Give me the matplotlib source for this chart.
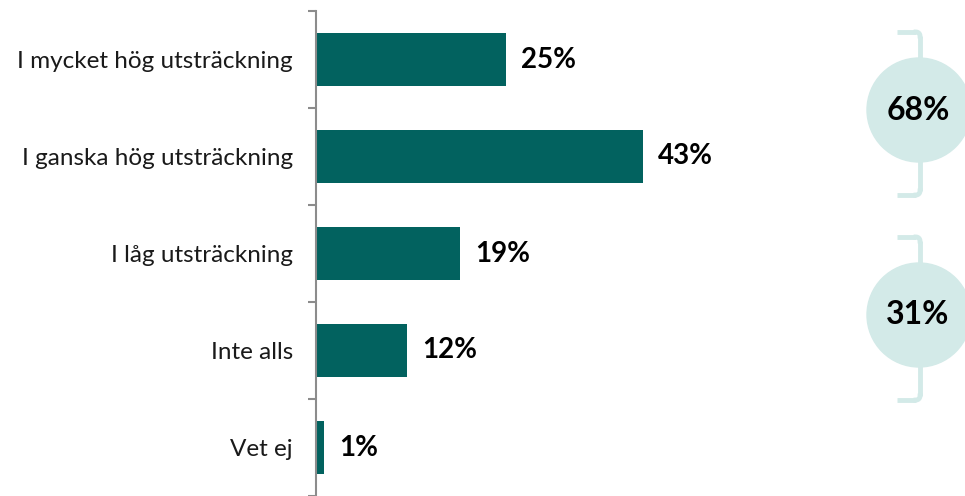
import matplotlib
matplotlib.use("Agg")
import matplotlib.pyplot as plt
from matplotlib.patches import Circle
import numpy as np

categories = ["I mycket hög utsträckning", "I ganska hög utsträckning",
              "I låg utsträckning", "Inte alls", "Vet ej"]
values = [25, 43, 19, 12, 1]
group_totals = [68, 31]

BAR = "#02625F"
LIGHT = "#D3EAE8"
AXIS = "#8C8C8C"
FONT = ["Lato", "DejaVu Sans"]

W, H = 965, 496
fig = plt.figure(figsize=(W / 100, H / 100), dpi=100)

ax = fig.add_axes([316 / W, 0, 1 - 316 / W, (H - 11) / H])
y = np.arange(len(categories))
ax.barh(y, values, height=0.55, color=BAR)
ax.set_ylim(len(categories) - 0.5, -0.5)
ax.set_xlim(0, (W - 316) / 7.6)

for s in ["top", "right", "bottom"]:
    ax.spines[s].set_visible(False)
ax.spines["left"].set_color(AXIS)
ax.spines["left"].set_linewidth(1.5)
ax.set_xticks([])
ax.set_yticks(np.arange(-0.5, len(categories)), labels=[""] * (len(categories) + 1))
ax.tick_params(axis="y", which="major", length=6, width=1.5, color=AXIS, direction="out")
ax.set_yticks(y, minor=True)
ax.set_yticklabels(categories, minor=True, fontsize=17.5, family=FONT, color="#1a1a1a")
ax.tick_params(axis="y", which="minor", length=0, pad=16.5)

for yi, v in zip(y, values):
    ax.annotate(f"{v}%", (v, yi), xytext=(11, 0), textcoords="offset points",
                va="center", ha="left", fontsize=20, fontweight="bold",
                family=FONT, color="black")

# overlay for the group circles
ov = fig.add_axes([0, 0, 1, 1])
ov.set_xlim(0, W)
ov.set_ylim(H, 0)
ov.axis("off")
ov.patch.set_alpha(0)

groups = [(110, 32, 195), (315, 237, 400)]
for (cy, top, bot), tot in zip(groups, group_totals):
    bx = 920
    ov.plot([897, bx - 4], [top, top], color=LIGHT, lw=3.5, solid_capstyle="butt")
    ov.plot([bx, bx], [top + 4, bot - 4], color=LIGHT, lw=3.5, solid_capstyle="butt")
    ov.plot([897, bx - 4], [bot, bot], color=LIGHT, lw=3.5, solid_capstyle="butt")
    t = np.linspace(0, np.pi / 2, 20)
    ov.plot(bx - 4 + 4 * np.sin(t), top + 4 - 4 * np.cos(t), color=LIGHT, lw=3.5)
    ov.plot(bx - 4 + 4 * np.sin(t), bot - 4 + 4 * np.cos(t), color=LIGHT, lw=3.5)
    ov.add_patch(Circle((919, cy), 52, color=LIGHT, zorder=3))
    ov.text(918, cy, f"{tot}%", ha="center", va="center", fontsize=23,
            fontweight="bold", family=FONT, color="black", zorder=4)

fig.savefig("out.png", dpi=100)
